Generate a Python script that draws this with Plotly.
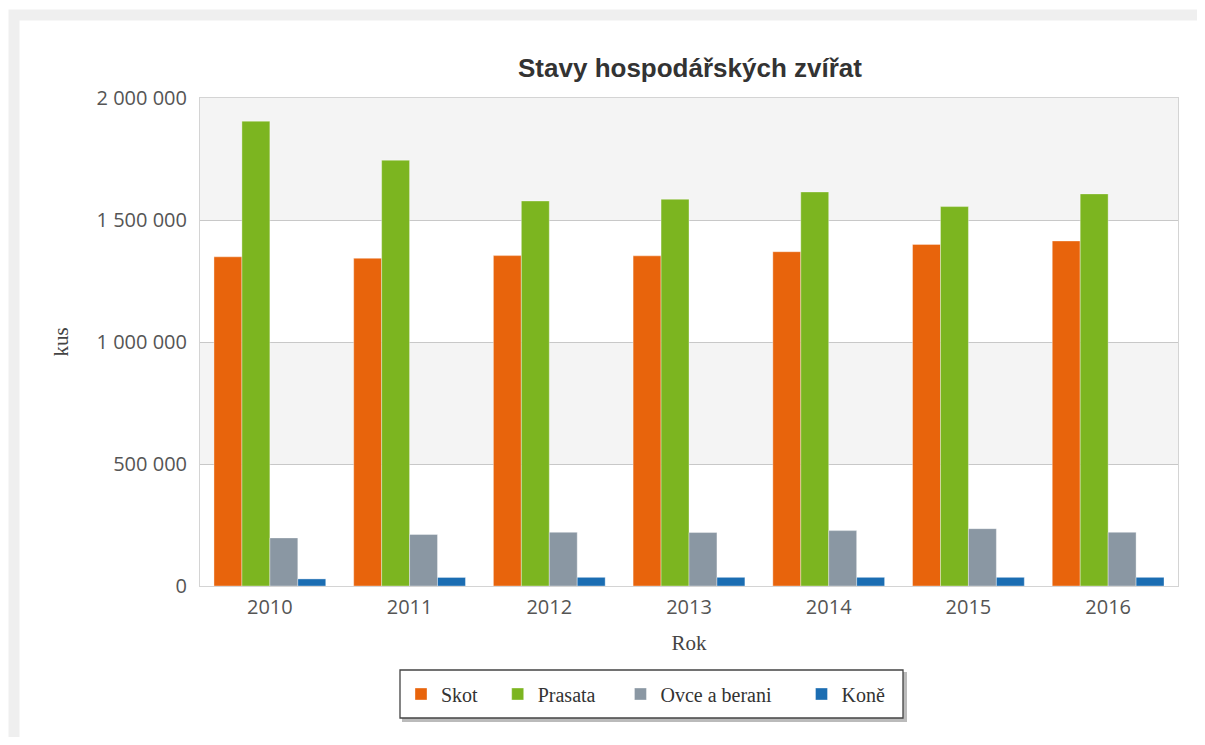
import plotly.graph_objects as go

years = ["2010", "2011", "2012", "2013", "2014", "2015", "2016"]
skot = [1349000, 1343000, 1354000, 1353000, 1370000, 1400000, 1414000]
prasata = [1905000, 1745000, 1578000, 1585000, 1615000, 1555000, 1607000]
ovce = [197000, 211000, 220000, 219000, 227000, 235000, 220000]
kone = [29000, 35000, 35500, 35500, 35500, 35500, 35500]

series_names = ["Skot", "Prasata", "Ovce a berani", "Koně"]
series_values = [skot, prasata, ovce, kone]
series_colors = ["#e8640c", "#7cb520", "#8a97a3", "#1b6db2"]
legend_pad = [3, 4, 5, 0]

y_ticks = [0, 500000, 1000000, 1500000, 2000000]

# page has an 8px body margin; work in page pixels and subtract it
OFF = 8
W, H = 1205 - 2 * OFF, 745 - 2 * OFF
PL, PT, PR, PB = 200, 98, 1178, 586  # plot area in page pixels
L, T = PL - OFF, PT - OFF
R, B = W - (PR - OFF), H - (PB - OFF)
pw, ph = W - L - R, H - T - B

def px(x):
    return (x - OFF - L) / pw

def py(y):
    return (H - B - (y - OFF)) / ph

fig = go.Figure()
for name, vals, col, pad in zip(series_names, series_values, series_colors, legend_pad):
    fig.add_trace(go.Bar(
        x=years, y=vals, name=name + "\u00a0" * pad,
        marker=dict(color=col, line=dict(color="rgba(255,255,255,0.6)", width=0.6)),
    ))

shapes = []
# alternating plot bands
for i in range(len(y_ticks) - 1):
    if i % 2 == 1:
        shapes.append(dict(type="rect", xref="paper", yref="y", x0=0, x1=1,
                           y0=y_ticks[i], y1=y_ticks[i + 1],
                           fillcolor="#f4f4f4", line=dict(width=0), layer="below"))
# page frame
shapes.append(dict(type="rect", xref="paper", yref="paper",
                   x0=px(14), x1=px(1203), y0=py(15), y1=py(770),
                   line=dict(color="#efefef", width=11), fillcolor="rgba(0,0,0,0)",
                   layer="below"))
# legend box shadow + box
shapes.append(dict(type="rect", xref="paper", yref="paper",
                   x0=px(403), x1=px(906), y0=py(673), y1=py(721),
                   line=dict(color="#bbbbbb", width=2), fillcolor="#bbbbbb", layer="above"))
shapes.append(dict(type="rect", xref="paper", yref="paper",
                   x0=px(400), x1=px(903), y0=py(670), y1=py(718),
                   line=dict(color="#444444", width=1.3), fillcolor="white", layer="above"))

fig.update_layout(
    width=W, height=H,
    margin=dict(l=L, r=R, t=T, b=B),
    paper_bgcolor="white", plot_bgcolor="white",
    separators=". ",
    barmode="group", bargap=0.2, bargroupgap=0,
    shapes=shapes,
    title=dict(text="<b>Stavy hospodářských zvířat</b>", xref="container",
               x=(690 - OFF) / W, xanchor="center",
               y=1 - (68 - OFF) / H, yanchor="middle",
               font=dict(family="Liberation Sans, Arial", size=26, color="#333333")),
    xaxis=dict(
        title=dict(text="Rok", font=dict(family="Liberation Serif, Times New Roman", size=21, color="#444"),
                   standoff=16),
        tickfont=dict(family="Open Sans, DejaVu Sans", size=20, color="#555"),
        ticklabelstandoff=3,
        showline=True, linecolor="#d4d4d4", mirror=True, linewidth=1,
        ticks="", showgrid=False,
    ),
    yaxis=dict(
        title=dict(text="kus", font=dict(family="Liberation Serif, Times New Roman", size=21, color="#444"),
                   standoff=22),
        range=[0, 2000000], tickvals=y_ticks, tickformat=",d",
        tickfont=dict(family="Open Sans, DejaVu Sans", size=20, color="#555"),
        ticklabelstandoff=8,
        showgrid=True, gridcolor="#c8c8c8", gridwidth=1,
        showline=True, linecolor="#d4d4d4", mirror=True, linewidth=1,
        zeroline=False, ticks="",
    ),
    legend=dict(
        orientation="h", x=px(401), xanchor="left", y=py(694), yanchor="middle",
        borderwidth=0, bgcolor="rgba(0,0,0,0)",
        font=dict(family="Liberation Serif, Times New Roman", size=20, color="#333"),
        itemwidth=30, traceorder="normal",
    ),
)

fig.write_html("out.html")
